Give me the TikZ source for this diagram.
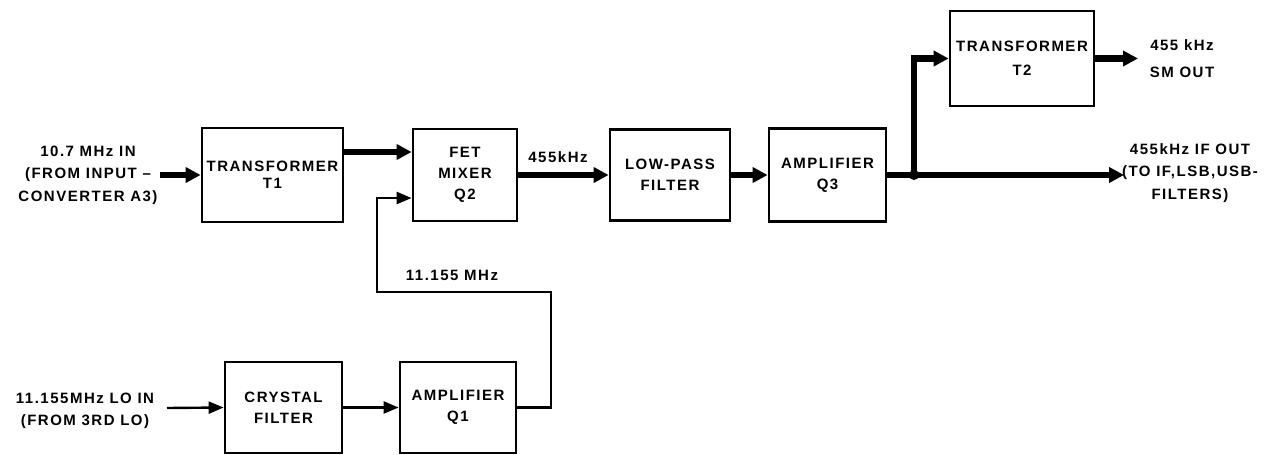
\documentclass[tikz,border=0pt]{standalone}
\usepackage{fontspec}
\setmainfont{Liberation Sans}[LetterSpace=10]
\usetikzlibrary{arrows.meta}
\newcommand\lblfont{\fontsize{15}{21}\selectfont\bfseries}
\newcommand\outfont{\fontsize{15}{22.5}\selectfont\bfseries}
\begin{document}
\begin{tikzpicture}[x=1pt,y=-1pt,
  blk/.style={draw, line width=2.8pt, align=center, font=\lblfont, inner sep=0pt},
  lab/.style={align=center, font=\outfont, inner sep=0pt},
  sig/.style={line width=2.4pt, -{Triangle[length=15pt,width=12pt]}},
  pwr/.style={line width=6.5pt, -{Triangle[length=15pt,width=15pt]}}
]
\useasboundingbox[fill=white] (0,0) rectangle (1278,455);

% blocks
\node[blk, minimum width=141pt, minimum height=94pt] (t1) at (272.5,175) {TRANSFORMER\\[-4pt]T1};
\node[blk, minimum width=104pt, minimum height=92pt] (fet) at (465,175) {FET\\MIXER\\Q2};
\node[blk, minimum width=120pt, minimum height=91pt] (lpf) at (670,175) {LOW-PASS\\FILTER};
\node[blk, minimum width=117pt, minimum height=93pt] (q3) at (827.5,175) {AMPLIFIER\\Q3};
\node[blk, minimum width=144pt, minimum height=95pt] (t2) at (1022,58.5) {TRANSFORMER\\[3pt]T2};
\node[blk, minimum width=117pt, minimum height=91pt] (xtal) at (283.5,407.5) {CRYSTAL\\FILTER};
\node[blk, minimum width=116pt, minimum height=91pt] (q1) at (458,407.5) {AMPLIFIER\\Q1};

% labels
\node[lab] (inlab) at (88,175) {10.7 MHz IN\\(FROM INPUT –\\CONVERTER A3)};
\node[lab] (lolab) at (85,411) {11.155MHz LO IN\\(FROM 3RD LO)};
\node[lab] (smlab) at (1182,58.5) {455 kHz\\[4.5pt]SM OUT};
\node[lab] (iflab) at (1190,173) {455kHz IF OUT\\(TO IF,LSB,USB-\\FILTERS)};
\node[lab] (midlab) at (558,157) {455kHz};
\node[lab] (lofreq) at (452,275) {11.155 MHz};

% free ends and corners
\coordinate (in1) at (160,175);
\coordinate (lo1) at (167,408);
\coordinate (c1) at (551,292);
\coordinate (c2) at (377,292);
\coordinate (j) at (914,175);
\coordinate (ifo) at (1124,175);
\coordinate (smo) at (1138,58.5);

% connectors
\draw[pwr] (in1) -- (t1.west);
\draw[pwr] ([yshift=23pt]t1.east) -- ([yshift=23pt]fet.west);
\draw[sig] (q1.east) -| (c1) -- (c2) |- ([yshift=-23pt]fet.west);
\draw[pwr] (fet) -- (lpf);
\draw[pwr] (lpf) -- (q3);
\draw[pwr] (q3.east) -- (ifo);
\draw[pwr] (j) |- (t2.west);
\fill (j) circle (5pt);
\draw[pwr] (t2.east) -- (smo);
\draw[sig] (lo1) -- (xtal.west);
\draw[sig] (xtal) -- (q1);
\end{tikzpicture}
\end{document}
